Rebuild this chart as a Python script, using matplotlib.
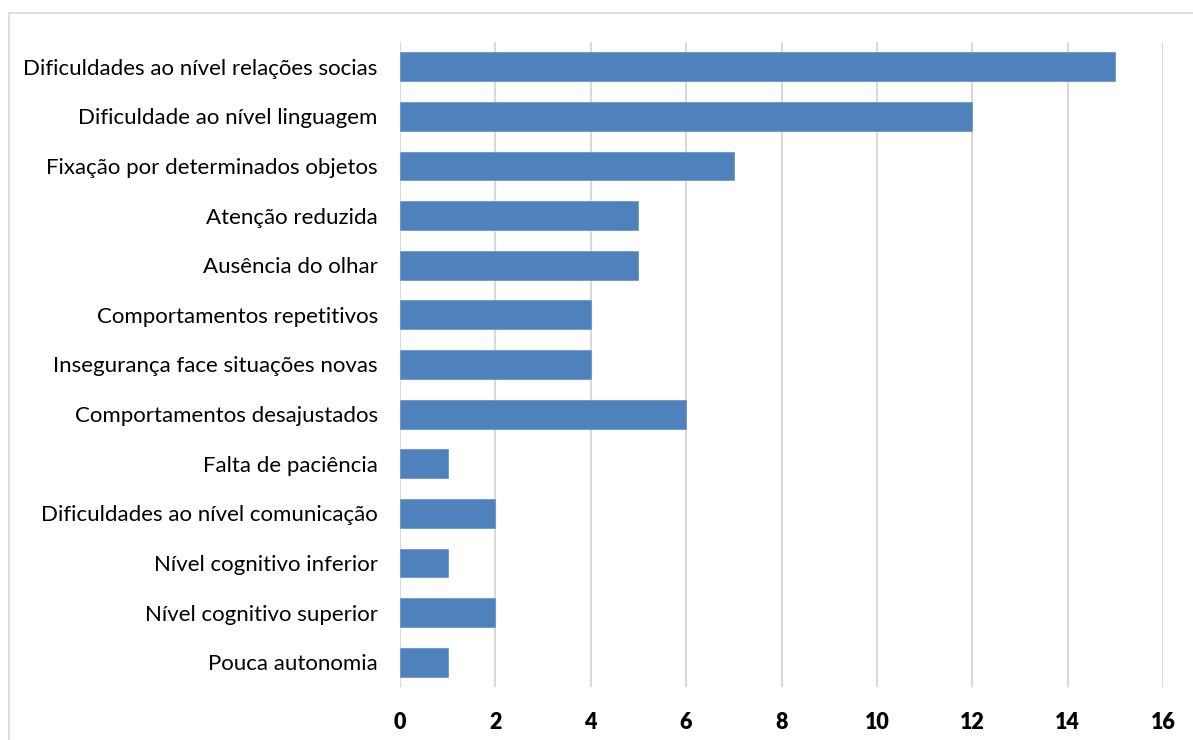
import matplotlib.pyplot as plt
from matplotlib.patches import Rectangle

categories = ['Dificuldades ao nível relações socias',
              'Dificuldade ao nível linguagem',
              'Fixação por determinados objetos',
              'Atenção reduzida',
              'Ausência do olhar',
              'Comportamentos repetitivos',
              'Insegurança face situações novas',
              'Comportamentos desajustados',
              'Falta de paciência',
              'Dificuldades ao nível comunicação',
              'Nível cognitivo inferior',
              'Nível cognitivo superior',
              'Pouca autonomia']
values = [15, 12, 7, 5, 5, 4, 4, 6, 1, 2, 1, 2, 1]
xticks = [0, 2, 4, 6, 8, 10, 12, 14, 16]

plt.rcParams['font.family'] = ['Lato', 'DejaVu Sans']

fig = plt.figure(figsize=(11.93, 7.40), dpi=100)
ax = fig.add_axes([400 / 1193, 1 - 687 / 740, 763 / 1193, 645 / 740])

# outer frame of the chart area
fig.patches.append(Rectangle((9 / 1193, -0.05), 1.2, 1 - 13 / 740 + 0.05,
                             transform=fig.transFigure, fill=False,
                             edgecolor='#d9d9d9', linewidth=1.2))

pos = list(range(len(categories)))
ax.barh(pos, values, height=0.58, color='#4f81bd', edgecolor='#6f97cb',
        linewidth=0.6, zorder=3)

ax.set_ylim(len(categories) - 0.5, -0.5)
ax.set_xlim(0, 16)
ax.set_xticks(xticks)
ax.set_xticklabels([str(t) for t in xticks], fontsize=15.5, fontweight='heavy')
ax.set_yticks(pos)
ax.set_yticklabels(categories, fontsize=16)
ax.tick_params(axis='both', length=0)
ax.tick_params(axis='x', pad=18)
ax.tick_params(axis='y', pad=16)
ax.grid(axis='x', color='#d9d9d9', linewidth=1.5, zorder=0)
for s in ax.spines.values():
    s.set_visible(False)

fig.savefig('out.png', dpi=100)
